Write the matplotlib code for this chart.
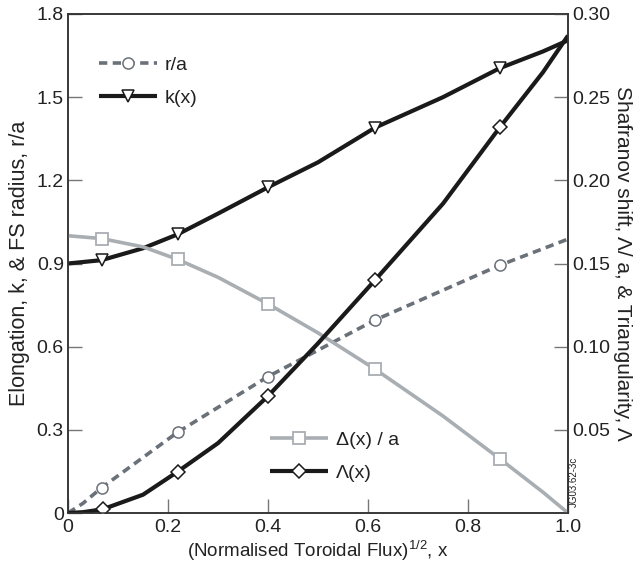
import matplotlib
matplotlib.use("Agg")
import matplotlib.pyplot as plt

plt.rcParams['font.family'] = ['Liberation Sans', 'DejaVu Sans']
plt.rcParams['mathtext.fontset'] = 'custom'
plt.rcParams['mathtext.rm'] = 'Liberation Sans'

# Flux-surface radius r/a (left axis)
x_r = [0.0, 0.03, 0.067, 0.219, 0.40, 0.614, 0.864, 1.0]
r_a = [0.0, 0.035, 0.091, 0.291, 0.492, 0.696, 0.894, 0.988]
r_marks = [2, 3, 4, 5, 6]

# Elongation k(x) (left axis)
x_k = [0.0, 0.067, 0.15, 0.219, 0.30, 0.40, 0.50, 0.614, 0.75, 0.864, 0.95, 1.0]
k_x = [0.90, 0.912, 0.955, 1.005, 1.08, 1.175, 1.265, 1.39, 1.50, 1.605, 1.665, 1.705]
k_marks = [1, 3, 5, 7, 9]

# Shafranov shift Delta(x)/a (right axis)
x_d = [0.0, 0.067, 0.15, 0.219, 0.30, 0.40, 0.50, 0.614, 0.75, 0.864, 0.95, 1.0]
delta_a = [0.1667, 0.165, 0.160, 0.1525, 0.1417, 0.1257, 0.1083, 0.0865, 0.0583, 0.0325, 0.0125, 0.0]
d_marks = [1, 3, 5, 7, 9]

# Triangularity Lambda(x) (right axis)
x_l = [0.0, 0.03, 0.069, 0.15, 0.219, 0.30, 0.40, 0.50, 0.614, 0.75, 0.864, 0.95, 1.0]
lam = [0.0, 0.0005, 0.0022, 0.011, 0.0248, 0.042, 0.0703, 0.102, 0.140, 0.186, 0.232, 0.265, 0.287]
l_marks = [2, 4, 6, 8, 10]

x_ticks = [0.0, 0.2, 0.4, 0.6, 0.8, 1.0]
x_ticklabels = ['0', '0.2', '0.4', '0.6', '0.8', '1.0']
left_ticks = [0.0, 0.3, 0.6, 0.9, 1.2, 1.5, 1.8]
left_ticklabels = ['0', '0.3', '0.6', '0.9', '1.2', '1.5', '1.8']
right_ticks = [0.05, 0.10, 0.15, 0.20, 0.25, 0.30]
right_ticklabels = ['0.05', '0.10', '0.15', '0.20', '0.25', '0.30']

C_RA = '#6b7178'
C_K = '#1a1a1a'
C_D = '#a9aeb3'
C_L = '#1a1a1a'

W, H = 638, 570
fig = plt.figure(figsize=(W / 100, H / 100), dpi=100)
L, R, T, B = 68, 568, 14, 513
ax = fig.add_axes([L / W, 1 - B / H, (R - L) / W, (B - T) / H])
ax2 = ax.twinx()

ax.set_xlim(0, 1)
ax.set_ylim(0, 1.8)
ax2.set_ylim(0, 0.30)

ln_r, = ax.plot(x_r, r_a, color=C_RA, lw=2.6, linestyle=(0, (2.3, 1.5)),
                marker='o', markevery=r_marks, ms=8, mfc='white', mec=C_RA,
                mew=1.1, label='r/a', solid_capstyle='butt', dash_capstyle='butt')
ln_k, = ax.plot(x_k, k_x, color=C_K, lw=3.0, marker='v', markevery=k_marks,
                ms=9, mfc='white', mec=C_K, mew=1.1, label='k(x)',
                solid_capstyle='butt')

ln_d, = ax2.plot(x_d, delta_a, color=C_D, lw=2.6, marker='s', markevery=d_marks,
                 ms=8, mfc='white', mec=C_D, mew=1.3, label='Δ(x) / a',
                 solid_capstyle='butt')
ln_l, = ax2.plot(x_l, lam, color=C_L, lw=3.0, marker='D', markevery=l_marks,
                 ms=7.5, mfc='white', mec=C_L, mew=1.1, label='Λ(x)',
                 solid_capstyle='butt')

tick_kw = dict(direction='in', length=10, width=1.0, color='#777777',
               labelsize=14, labelcolor='#222222')
ax.set_xticks(x_ticks)
ax.set_xticklabels(x_ticklabels)
ax.set_yticks(left_ticks)
ax.set_yticklabels(left_ticklabels)
ax.tick_params(axis='x', pad=4, **tick_kw)
ax.tick_params(axis='y', pad=3, **tick_kw)
ax2.set_yticks(right_ticks)
ax2.set_yticklabels(right_ticklabels)
ax2.tick_params(axis='y', pad=3, **tick_kw)

for a in (ax, ax2):
    for s in a.spines.values():
        s.set_linewidth(1.1)
        s.set_color('#333333')

ax.set_xlabel(r'(Normalised Toroidal Flux)$^{\mathregular{1/2}}$, x',
              fontsize=13.5, color='#222222', labelpad=2)
ax.set_ylabel('Elongation, k, & FS radius, r/a', fontsize=15.5,
              color='#222222', labelpad=5)
ax2.set_ylabel('Shafranov shift, Λ/ a, & Triangularity, Λ', fontsize=15,
               color='#222222', rotation=270, labelpad=16)

leg_kw = dict(frameon=False, fontsize=14, handlelength=3.0, handletextpad=0.4,
              labelspacing=0.8, borderpad=0, borderaxespad=0, numpoints=1,
              loc='upper left', bbox_transform=fig.transFigure)
leg1 = ax.legend(handles=[ln_r, ln_k], bbox_to_anchor=(99 / W, 1 - 56 / H), **leg_kw)
leg2 = ax2.legend(handles=[ln_d, ln_l], bbox_to_anchor=(270 / W, 1 - 431 / H), **leg_kw)
for lg in (leg1, leg2):
    for t in lg.get_texts():
        t.set_color('#222222')

fig.text(574 / W, 1 - 482 / H, 'JG03.62-3c', rotation=90, fontsize=7,
         ha='center', va='center', color='#222222')

fig.savefig('out.png', dpi=100)
